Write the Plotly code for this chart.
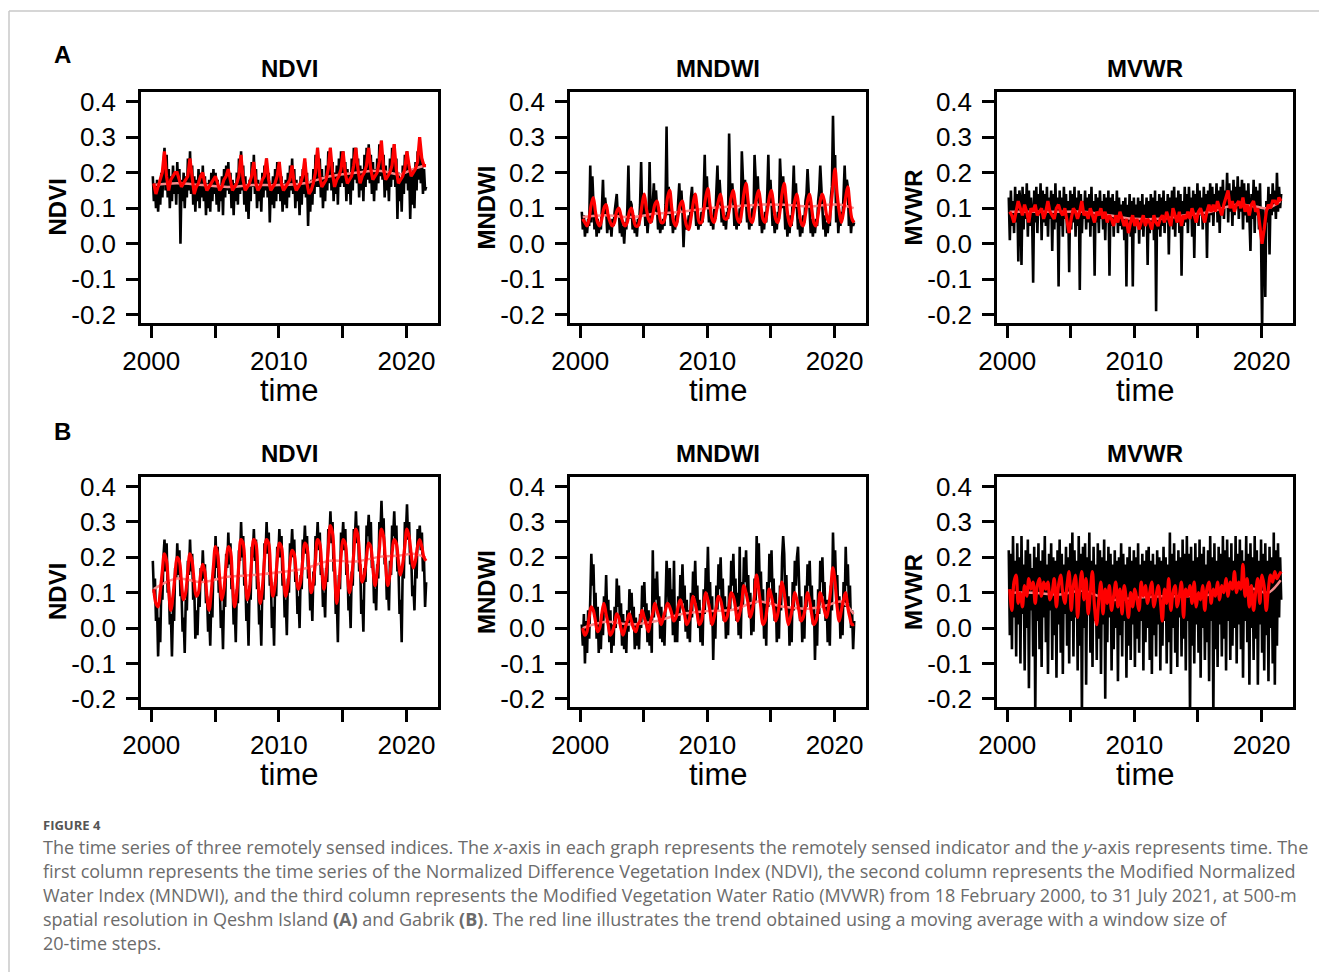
import numpy as np
import plotly.graph_objects as go

W, H = 1319, 972

# ---------------- data (decimal years; black = raw index, red = moving average, pink = trend) ----------------
# Black series: monthly values from Feb 2000 to Jul 2021
ndvi_qeshm = [
 .19,.12,.17,.10,.18,.09,.16,.11,.20,.13,.22,
 .27,.15,.25,.13,.21,.10,.19,.12,.22,.14,.20,.11,
 .23,.14,.21,.00,.18,.12,.20,.10,.19,.13,.24,.15,
 .26,.14,.22,.11,.19,.09,.18,.12,.21,.10,.20,.13,
 .22,.12,.19,.08,.17,.10,.18,.09,.20,.12,.21,.14,
 .20,.11,.18,.09,.16,.12,.19,.08,.21,.13,.22,.15,
 .23,.14,.20,.10,.18,.08,.17,.12,.20,.11,.24,.14,
 .26,.15,.22,.11,.19,.09,.16,.07,.18,.12,.23,.16,
 .25,.14,.21,.10,.18,.12,.17,.09,.20,.13,.22,.15,
 .24,.13,.20,.06,.17,.11,.19,.10,.21,.12,.23,.14,
 .23,.12,.19,.09,.17,.11,.18,.10,.20,.13,.22,.15,
 .24,.14,.21,.10,.18,.12,.16,.08,.19,.11,.21,.14,
 .23,.13,.20,.05,.17,.09,.18,.11,.21,.14,.25,.16,
 .27,.16,.24,.13,.21,.10,.19,.12,.22,.15,.26,.17,
 .27,.15,.23,.12,.20,.14,.22,.11,.24,.16,.26,.17,
 .26,.16,.23,.12,.21,.14,.20,.11,.24,.15,.27,.18,
 .27,.17,.24,.13,.22,.15,.21,.12,.25,.16,.27,.18,
 .28,.17,.25,.14,.23,.12,.21,.15,.24,.17,.28,.19,
 .29,.18,.25,.13,.22,.15,.20,.12,.24,.16,.27,.18,
 .28,.16,.24,.07,.20,.12,.18,.09,.22,.14,.25,.17,
 .26,.15,.22,.07,.19,.11,.21,.10,.23,.15,.26,.18,
 .28,.17,.24,.14,.21,.15,.16]
mndwi_qeshm = [
 .09,.04,.08,.02,.06,.03,.07,.05,.22,.06,.19,
 .12,.04,.09,.02,.07,.03,.06,.04,.10,.18,.08,.13,
 .10,.03,.08,.04,.06,.02,.07,.05,.09,.11,.14,.08,
 .09,.03,.07,.02,.05,.00,.06,.04,.10,.22,.07,.12,
 .11,.04,.08,.03,.06,.02,.07,.05,.11,.23,.08,.14,
 .12,.05,.09,.03,.07,.23,.08,.06,.12,.17,.09,.15,
 .10,.04,.08,.03,.06,.04,.07,.05,.11,.33,.08,.16,
 .11,.05,.09,.03,.07,.04,.08,.06,.12,.17,.10,.15,
 .09,-.01,.07,.04,.06,.05,.08,.06,.13,.16,.09,.14,
 .10,.05,.08,.04,.07,.05,.09,.06,.14,.25,.10,.19,
 .12,.06,.09,.05,.08,.04,.10,.07,.15,.22,.11,.18,
 .13,.06,.10,.05,.08,.04,.09,.07,.31,.16,.12,.17,
 .12,.05,.09,.04,.08,.05,.10,.06,.26,.15,.11,.18,
 .12,.06,.09,.04,.07,.05,.10,.07,.25,.16,.12,.19,
 .11,.05,.09,.03,.07,.04,.09,.06,.14,.25,.11,.18,
 .12,.05,.08,.03,.06,.04,.09,.07,.24,.15,.10,.19,
 .11,.04,.08,.02,.06,.03,.08,.05,.13,.22,.10,.17,
 .10,.04,.07,.02,.05,.03,.08,.06,.12,.14,.21,.16,
 .09,.03,.07,.02,.06,.03,.07,.05,.12,.15,.22,.17,
 .10,.04,.08,.02,.06,.03,.07,.05,.13,.16,.36,.20,
 .25,.06,.12,.03,.08,.05,.09,.07,.14,.22,.13,.18,
 .16,.05,.10,.03,.07,.05,.06]
mvwr_qeshm = [
 .13,.01,.15,.05,.12,.03,.16,.06,.14,-.05,.15,
 .12,-.06,.16,.04,.14,.07,.17,.02,.15,.05,.13,.08,
 -.11,.15,.06,.16,.03,.14,.08,.17,.01,.15,.06,.14,
 .05,.16,.02,.13,.07,.15,-.02,.14,.04,.17,.06,.13,
 -.12,.15,.05,.13,.02,.16,.07,.14,.03,.12,-.08,.15,
 .04,.14,.06,.16,.02,.13,.05,.15,-.13,.14,.03,.12,
 .07,.15,.04,.13,.06,.14,.02,.16,.05,.12,-.09,.14,
 .06,.13,.03,.15,.07,.12,.04,.14,.01,.13,.06,.15,
 -.09,.13,.05,.14,.02,.12,.06,.15,.03,.13,.05,.11,
 .04,.12,.01,.13,-.12,.11,.05,.14,.02,.12,-.12,.13,
 .03,.11,.05,.13,.00,.12,.04,.14,.02,.11,.06,.13,
 -.06,.12,.03,.14,.05,.13,.01,.15,-.19,.12,.04,.14,
 .02,.13,.05,.15,.03,.12,.06,.14,-.03,.13,.05,.15,
 .04,.16,.02,.13,.06,.15,.03,.14,-.09,.12,.05,.16,
 .06,.14,.03,.16,.07,.13,.02,.15,-.04,.14,.06,.17,
 .05,.15,.08,.13,.04,.16,.07,.14,-.04,.15,.06,.17,
 .08,.16,.05,.14,.09,.17,.06,.15,.03,.16,.08,.18,
 .07,.15,.10,.20,.06,.17,.09,.15,.05,.18,.08,.16,
 .10,.19,.07,.16,.09,.18,.04,.17,.08,.15,.06,.17,
 .05,-.02,.14,.07,.18,.03,.16,.08,.15,.04,.17,.02,
 -.25,.10,.05,-.15,.12,.06,.16,-.03,.14,.08,.17,.09,
 .15,.07,.20,.09,.16,.10,.14]
ndvi_gabrik = [
 .19,.10,.14,.02,.06,-.08,.03,-.04,.12,.08,.20,
 .25,.16,.24,.10,.13,.01,.04,-.08,.06,.02,.17,.14,
 .24,.15,.22,.09,.10,-.01,.03,-.07,.08,.05,.19,.15,
 .25,.16,.21,.08,.11,-.03,.05,-.02,.09,.06,.17,.13,
 .22,.14,.18,.07,.09,-.01,.04,-.05,.08,.03,.18,.14,
 .26,.17,.23,.10,.12,.00,.05,-.06,.10,.06,.21,.17,
 .27,.18,.24,.11,.13,.01,.06,-.04,.11,.07,.22,.19,
 .30,.20,.26,.12,.14,.02,.07,-.05,.12,.08,.23,.20,
 .28,.19,.25,.11,.13,.01,.05,-.05,.12,.08,.24,.21,
 .30,.21,.27,.12,.14,.00,.06,-.05,.13,.09,.23,.20,
 .28,.20,.26,.12,.15,.03,.08,-.02,.14,.10,.24,.21,
 .28,.20,.25,.13,.16,.04,.09,.00,.15,.11,.25,.22,
 .29,.21,.26,.14,.17,.05,.10,.02,.16,.12,.26,.23,
 .30,.22,.27,.15,.17,.06,.10,.03,.17,.13,.28,.25,
 .33,.24,.30,.16,.18,.04,.08,-.04,.15,.11,.27,.24,
 .30,.22,.28,.15,.18,.05,.09,.00,.16,.12,.28,.25,
 .33,.24,.29,.16,.18,.04,.08,-.01,.17,.13,.29,.26,
 .32,.24,.30,.17,.19,.07,.11,.05,.18,.14,.30,.27,
 .36,.26,.31,.18,.20,.08,.12,.05,.19,.15,.29,.26,
 .33,.24,.29,.16,.17,.04,.08,-.04,.18,.14,.30,.27,
 .35,.25,.30,.18,.20,.09,.12,.05,.18,.14,.28,.25,
 .29,.22,.27,.16,.19,.06,.13]
mndwi_gabrik = [
 .01,-.05,.04,-.10,.02,-.07,.05,-.03,.08,.21,.12,
 .18,.05,.10,-.03,.06,-.07,.02,-.06,.04,-.02,.09,.04,
 .15,.03,.08,-.04,.05,-.07,.01,-.05,.06,.00,.14,.06,
 .12,.02,.07,-.05,.04,-.06,.02,-.07,.05,-.01,.11,.05,
 .10,.01,.06,-.06,.03,-.05,.01,-.06,.04,.00,.12,.06,
 .13,.03,.07,-.04,.05,-.05,.02,-.07,.22,.03,.14,.08,
 .16,.05,.09,-.03,.06,-.04,.03,-.05,.08,.19,.13,.07,
 .17,.06,.11,-.02,.19,-.04,.04,-.04,.09,.02,.15,.08,
 .18,.07,.12,-.01,.08,-.03,.05,-.04,.10,.03,.16,.09,
 .19,.07,.12,.00,.08,-.04,.04,-.05,.11,.04,.17,.10,
 .23,.08,.13,.01,.09,-.09,.05,-.03,.12,.05,.18,.11,
 .20,.08,.14,.02,.09,-.03,.06,-.02,.12,.05,.19,.12,
 .21,.09,.14,.02,.10,-.02,.23,-.03,.13,.06,.20,.13,
 .22,.10,.15,.03,.10,-.02,.07,-.01,.14,.07,.26,.14,
 .24,.11,.16,.03,.11,-.03,.07,-.05,.13,.06,.21,.13,
 .22,.09,.14,.02,.10,-.04,.06,-.03,.12,.05,.20,.26,
 .21,.08,.15,.03,.09,-.05,.06,-.04,.13,.05,.19,.12,
 .20,.23,.13,.02,.09,-.04,.05,-.03,.12,.06,.18,.12,
 .19,.08,.12,.01,.08,-.09,.04,-.05,.11,.04,.19,.13,
 .20,.09,.13,.02,.08,-.04,.05,-.05,.12,.05,.27,.15,
 .22,.11,.15,.03,.09,-.03,.06,-.02,.13,.06,.23,.12,
 .18,.07,.12,.00,.05,-.06,.02]
mvwr_gabrik = [
 .22,-.02,.21,-.06,.26,.03,.19,-.08,.24,.01,.20,
 -.10,.26,.04,.18,-.12,.22,.00,.25,-.17,.21,.05,.17,
 -.08,.23,-.25,.20,.02,.24,-.06,.19,-.11,.22,.03,.26,
 -.04,.18,-.13,.21,.05,.24,-.09,.20,-.02,.19,-.14,.22,
 .01,.25,-.07,.21,-.13,.18,.04,.23,-.05,.20,-.10,.24,
 .02,.27,-.08,.22,.03,.19,-.12,.26,-.05,.21,-.25,.23,
 .00,.24,-.16,.20,.04,.27,-.07,.19,-.11,.23,.02,.18,
 -.09,.24,-.03,.22,-.13,.20,.01,.25,-.20,.19,-.04,.23,
 .03,.21,-.12,.18,-.06,.22,.00,.19,-.15,.20,-.02,.24,
 -.08,.21,.02,.18,-.14,.20,-.05,.23,-.09,.19,.01,.22,
 -.11,.20,-.03,.24,-.07,.18,.02,.21,-.12,.19,-.04,.22,
 .00,.23,-.09,.19,-.13,.21,-.02,.18,-.08,.22,.01,.20,
 -.12,.19,-.05,.23,.02,.20,-.10,.18,-.04,.27,-.13,.21,
 .00,.24,-.07,.19,-.11,.22,.03,.20,-.08,.25,-.03,.21,
 -.12,.26,.02,.21,-.25,.23,-.05,.19,-.10,.24,.01,.20,
 -.07,.25,-.14,.21,.00,.23,-.09,.18,-.04,.22,-.15,.26,
 .02,.20,-.25,.24,-.06,.19,-.11,.23,.01,.21,-.08,.26,
 -.03,.22,-.12,.25,.02,.20,-.09,.24,-.05,.19,.00,.26,
 -.10,.21,.01,.25,-.06,.22,-.14,.19,.02,.26,-.04,.21,
 -.16,.24,.00,.20,-.09,.26,-.03,.22,-.16,.19,.01,.25,
 -.07,.21,-.12,.24,-.02,.19,-.15,.23,.00,.20,-.10,.27,
 -.16,.22,-.05,.24,.03,.20,.08]

# Red series: moving average (20 time steps), sampled every two months from 2000.2
ndvi_qeshm_ma = [
 .17,.14,.16,.18,.20,.26, .19,.15,.18,.19,.20,.20, .18,.16,.17,.18,.19,.24,
 .18,.14,.16,.17,.19,.20, .17,.15,.16,.17,.18,.19, .17,.15,.16,.18,.19,.21,
 .18,.15,.16,.17,.19,.25, .18,.15,.16,.17,.19,.23, .17,.15,.16,.18,.19,.24,
 .18,.15,.16,.17,.19,.23, .17,.15,.16,.17,.18,.22, .17,.15,.16,.17,.19,.24,
 .17,.14,.15,.17,.20,.27, .19,.16,.17,.18,.21,.27, .20,.16,.18,.19,.21,.26,
 .20,.17,.18,.19,.22,.27, .21,.17,.19,.20,.22,.27, .21,.18,.19,.20,.23,.29,
 .21,.18,.19,.20,.22,.28, .21,.17,.18,.19,.21,.26, .22,.19,.20,.21,.23,.30,
 .24,.22,.22]
mndwi_qeshm_ma = [
 .07,.06,.05,.07,.11,.13, .09,.06,.05,.07,.10,.11, .08,.06,.05,.06,.09,.10,
 .08,.06,.05,.06,.09,.10, .07,.05,.05,.07,.11,.14, .10,.07,.06,.08,.11,.12,
 .09,.06,.06,.08,.13,.15, .10,.06,.05,.08,.11,.12, .08,.05,.04,.07,.11,.14,
 .10,.06,.06,.09,.13,.155, .11,.07,.06,.09,.12,.14, .10,.07,.07,.09,.13,.15,
 .11,.07,.06,.09,.14,.17, .12,.07,.06,.09,.13,.15, .11,.07,.06,.09,.13,.15,
 .11,.07,.06,.09,.14,.17, .12,.07,.05,.08,.12,.14, .10,.06,.05,.08,.12,.14,
 .10,.06,.05,.08,.12,.14, .12,.08,.06,.10,.16,.21, .14,.09,.06,.09,.13,.16,
 .11,.07,.06]
mvwr_qeshm_ma = [
 .09,.08,.06,.09,.12,.10, .08,.11,.09,.06,.10,.09, .11,.08,.09,.10,.07,.09,
 .12,.09,.08,.07,.10,.11, .09,.08,.10,.07,.03,.07, .10,.09,.07,.09,.12,.08,
 .09,.07,.10,.08,.06,.09, .08,.10,.07,.09,.06,.08, .07,.05,.08,.06,.09,.07,
 .05,.07,.03,.06,.08,.05, .07,.04,.06,.08,.05,.07, .06,.04,.08,.06,.05,.07,
 .08,.06,.09,.07,.05,.10, .08,.06,.09,.05,.08,.07, .09,.07,.10,.08,.06,.09,
 .10,.08,.06,.09,.11,.09, .11,.09,.12,.10,.08,.11, .13,.15,.10,.12,.09,.11,
 .12,.10,.13,.09,.11,.08, .11,.12,.09,.10,.05,.00, .04,.09,.11,.10,.12,.12,
 .11,.13,.12]
ndvi_gabrik_ma = [
 .11,.07,.06,.10,.16,.21, .19,.11,.05,.09,.15,.20, .19,.13,.08,.10,.16,.21,
 .19,.13,.09,.10,.15,.18, .16,.09,.05,.10,.17,.23, .21,.14,.08,.11,.18,.23,
 .22,.13,.06,.10,.18,.25, .24,.15,.08,.11,.19,.25, .24,.14,.07,.11,.19,.25,
 .24,.15,.09,.12,.19,.24, .23,.15,.09,.12,.18,.22, .21,.15,.11,.13,.19,.24,
 .23,.16,.10,.13,.19,.25, .24,.17,.11,.15,.22,.29, .27,.17,.07,.12,.20,.25,
 .24,.16,.10,.14,.21,.28, .26,.18,.13,.15,.20,.24, .23,.17,.12,.16,.22,.28,
 .26,.18,.12,.15,.21,.25, .24,.19,.15,.18,.23,.28, .26,.21,.17,.19,.23,.25,
 .23,.20,.19]
mndwi_gabrik_ma = [
 .00,-.02,-.01,.03,.06,.05, .02,-.01,.00,.04,.07,.04, .01,-.02,-.01,.01,.04,.03,
 .00,-.02,.00,.02,.04,.02, .00,-.01,.01,.02,.05,.03, .01,-.01,.02,.04,.07,.05,
 .03,.01,.03,.05,.07,.06, .04,.02,.03,.06,.08,.06, .04,.01,.02,.05,.09,.07,
 .04,.01,.02,.06,.10,.08, .05,.01,.03,.06,.09,.08, .05,.02,.03,.06,.10,.09,
 .06,.02,.04,.07,.12,.10, .07,.03,.05,.09,.15,.11, .06,.01,.02,.06,.11,.09,
 .06,.02,.04,.08,.13,.10, .05,.01,.03,.06,.10,.08, .05,.02,.03,.06,.10,.08,
 .04,.01,.02,.05,.10,.08, .05,.03,.06,.11,.17,.13, .06,.02,.05,.08,.10,.06,
 .03,.01,.01]
mvwr_gabrik_ma = [
 .11,.05,.13,.15,.07,.10, .06,.12,.09,.14,.11,.13, .07,.12,.14,.09,.13,.11,
 .13,.08,.10,.14,.06,.12, .15,.10,.07,.12,.16,.05, .12,.15,.03,.11,.16,.08,
 .14,.04,.10,.16,.06,.01, .08,.13,.04,.11,.07,.12, .05,.09,.13,.06,.11,.04,
 .12,.08,.03,.10,.06,.11, .08,.05,.13,.09,.12,.07, .10,.13,.06,.09,.12,.08,
 .02,.11,.07,.14,.05,.10, .12,.06,.09,.13,.03,.11, .09,.12,.07,.13,.06,.10,
 .08,.12,.05,.11,.13,.07, .11,.09,.13,.08,.12,.10, .14,.09,.13,.11,.16,.10,
 .13,.11,.18,.09,.14,.06, .12,.05,.10,.14,.07,.15, .12,.05,.11,.15,.13,.16,
 .14,.15,.16]

# Pink series: long-term trend
trend_years = [2000.2, 2002.0, 2004.0, 2006.0, 2008.0, 2010.0, 2012.0, 2014.0, 2016.0, 2018.0, 2019.5, 2020.5, 2021.5]
ndvi_qeshm_tr  = [.165, .170, .165, .160, .165, .165, .170, .190, .200, .205, .195, .210, .220]
mndwi_qeshm_tr = [.075, .080, .075, .085, .090, .100, .105, .110, .110, .105, .110, .110, .100]
mvwr_qeshm_tr  = [.090, .090, .090, .090, .080, .070, .070, .080, .090, .110, .105, .100, .120]
ndvi_gabrik_tr = [.110, .140, .130, .145, .150, .158, .168, .190, .188, .202, .205, .210, .200]
mndwi_gabrik_tr = [.000, .018, .010, .020, .040, .048, .052, .075, .060, .055, .065, .075, .040]
mvwr_gabrik_tr = [.100, .100, .095, .105, .080, .085, .090, .090, .095, .120, .110, .100, .135]

panel_titles = ["NDVI", "MNDWI", "MVWR", "NDVI", "MNDWI", "MVWR"]
x_tickvals = [2000, 2005, 2010, 2015, 2020]
x_ticktext = ["2000", "", "2010", "", "2020"]
y_tickvals = [-0.2, -0.1, 0.0, 0.1, 0.2, 0.3, 0.4]
y_ticktext = ["-0.2", "-0.1", "0.0", "0.1", "0.2", "0.3", "0.4"]

raw = [ndvi_qeshm, mndwi_qeshm, mvwr_qeshm, ndvi_gabrik, mndwi_gabrik, mvwr_gabrik]
ma = [ndvi_qeshm_ma, mndwi_qeshm_ma, mvwr_qeshm_ma, ndvi_gabrik_ma, mndwi_gabrik_ma, mvwr_gabrik_ma]
tr = [ndvi_qeshm_tr, mndwi_qeshm_tr, mvwr_qeshm_tr, ndvi_gabrik_tr, mndwi_gabrik_tr, mvwr_gabrik_tr]
smooth = [False, True, False, True, True, True]

# ---------------- layout geometry (pixels) ----------------
cols_px = [(141, 438), (570, 866), (997, 1293)]
rows_px = [(92, 323), (477, 707)]

def fx(px):
    return px / W

def fy(py):
    return 1 - py / H

FONT = "Liberation Sans, Arial, sans-serif"
fig = go.Figure()
layout = dict(width=W, height=H, margin=dict(l=0, r=0, t=0, b=0, pad=0, autoexpand=False),
              paper_bgcolor="white", plot_bgcolor="white", showlegend=False)
annotations = []
shapes = []

for k in range(6):
    r, c = divmod(k, 3)
    n = k + 1
    xa = "x" if n == 1 else f"x{n}"
    ya = "y" if n == 1 else f"y{n}"
    t_raw = 2000.125 + np.arange(len(raw[k])) / 12
    t_ma = 2000.2 + np.arange(len(ma[k])) / 6
    fig.add_trace(go.Scatter(x=t_raw, y=raw[k], mode="lines", xaxis=xa, yaxis=ya,
                             line=dict(color="black", width=2.6), hoverinfo="skip"))
    fig.add_trace(go.Scatter(x=trend_years, y=tr[k], mode="lines", xaxis=xa, yaxis=ya,
                             line=dict(color="#f58a8a", width=2.5, shape="spline"), hoverinfo="skip"))
    fig.add_trace(go.Scatter(x=t_ma, y=ma[k], mode="lines", xaxis=xa, yaxis=ya,
                             line=dict(color="#ff0000", width=3.2,
                                       shape="spline" if smooth[k] else "linear"),
                             hoverinfo="skip"))
    x0, x1 = cols_px[c]
    y0, y1 = rows_px[r]
    axis_common = dict(showgrid=False, zeroline=False, showline=True, linecolor="black",
                       linewidth=2.5, mirror=True, ticks="outside", ticklen=12, tickwidth=2.5,
                       tickcolor="black", automargin=False,
                       tickfont=dict(family=FONT, size=26, color="black"))
    layout["xaxis" if n == 1 else f"xaxis{n}"] = dict(
        axis_common, domain=[fx(x0), fx(x1)], range=[1999.2, 2022.47], anchor=ya,
        tickmode="array", tickvals=x_tickvals, ticktext=x_ticktext, ticklabelstandoff=1)
    layout["yaxis" if n == 1 else f"yaxis{n}"] = dict(
        axis_common, domain=[fy(y1), fy(y0)], range=[-0.223, 0.427], anchor=xa,
        tickmode="array", tickvals=y_tickvals, ticktext=y_ticktext, ticklabelstandoff=5)
    # panel title
    cx = (x0 + x1) / 2
    annotations.append(dict(text=f"<b>{panel_titles[k]}</b>", x=fx(cx), y=fy(y0 - 23),
                            xref="paper", yref="paper", showarrow=False, xanchor="center", yanchor="middle",
                            font=dict(family=FONT, size=24, color="black")))
    # x-axis title
    annotations.append(dict(text="time", x=fx(cx), y=fy(y1 + 67), xref="paper", yref="paper",
                            showarrow=False, xanchor="center", yanchor="middle",
                            font=dict(family=FONT, size=31, color="black")))
    # y-axis title
    annotations.append(dict(text=f"<b>{panel_titles[k]}</b>", x=fx(x0 - 84), y=fy((y0 + y1) / 2),
                            xref="paper", yref="paper", showarrow=False, textangle=-90,
                            xanchor="center", yanchor="middle",
                            font=dict(family=FONT, size=24, color="black")))

# panel letters
for letter, py in [("A", 55), ("B", 431)]:
    annotations.append(dict(text=f"<b>{letter}</b>", x=fx(62), y=fy(py), xref="paper", yref="paper",
                            showarrow=False, xanchor="center", yanchor="middle",
                            font=dict(family=FONT, size=24, color="black")))

# caption
CAP_FONT = "Open Sans, Lato, sans-serif"
annotations.append(dict(text="<b>FIGURE 4</b>", x=fx(41), y=fy(825), xref="paper", yref="paper",
                        showarrow=False, xanchor="left", yanchor="middle",
                        font=dict(family=CAP_FONT, size=13, color="#555555")))
caption_lines = [
    "The time series of three remotely sensed indices. The <i>x</i>-axis in each graph represents the remotely sensed indicator and the <i>y</i>-axis represents time. The",
    "first column represents the time series of the Normalized Difference Vegetation Index (NDVI), the second column represents the Modified Normalized",
    "Water Index (MNDWI), and the third column represents the Modified Vegetation Water Ratio (MVWR) from 18 February 2000, to 31 July 2021, at 500-m",
    "spatial resolution in Qeshm Island <b>(A)</b> and Gabrik <b>(B)</b>. The red line illustrates the trend obtained using a moving average with a window size of",
    "20-time steps.",
]
for i, line in enumerate(caption_lines):
    annotations.append(dict(text=line, x=fx(41), y=fy(847 + 24 * i), xref="paper", yref="paper",
                            showarrow=False, xanchor="left", yanchor="middle",
                            font=dict(family=CAP_FONT, size=18, color="#6b6b6b")))

# page frame
shapes.append(dict(type="line", xref="paper", yref="paper", x0=fx(9), x1=1.0, y0=fy(11), y1=fy(11),
                   line=dict(color="#c8c8c8", width=1.5)))
shapes.append(dict(type="line", xref="paper", yref="paper", x0=fx(9), x1=fx(9), y0=fy(11), y1=0.0,
                   line=dict(color="#c8c8c8", width=1.5)))

layout["annotations"] = annotations
layout["shapes"] = shapes
fig.update_layout(**layout)
fig.write_html("out.html")
